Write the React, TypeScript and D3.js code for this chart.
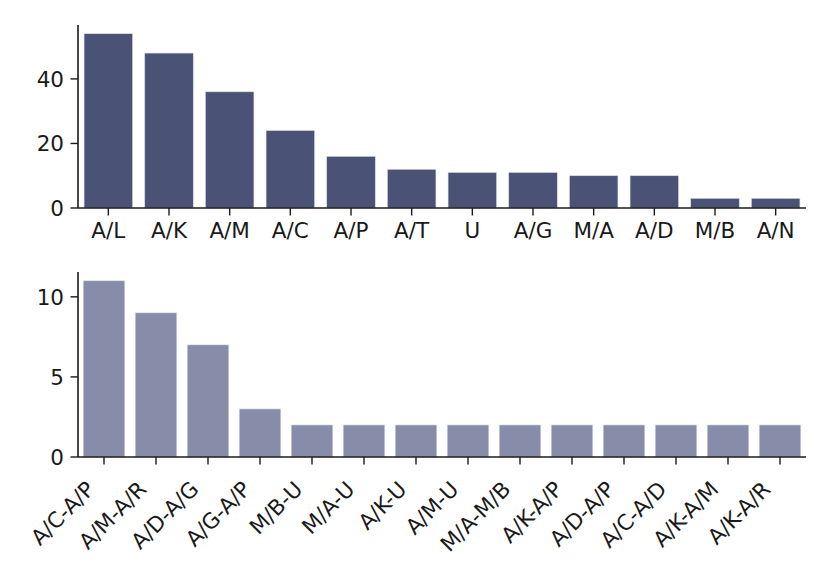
import React, { useEffect, useRef } from 'react';
import * as d3 from 'd3';

const topLabels = ['A/L', 'A/K', 'A/M', 'A/C', 'A/P', 'A/T', 'U', 'A/G', 'M/A', 'A/D', 'M/B', 'A/N'];
const topValues = [54, 48, 36, 24, 16, 12, 11, 11, 10, 10, 3, 3];
const topTicks = [0, 20, 40];

const bottomLabels = ['A/C-A/P', 'A/M-A/R', 'A/D-A/G', 'A/G-A/P', 'M/B-U', 'M/A-U', 'A/K-U', 'A/M-U', 'M/A-M/B', 'A/K-A/P', 'A/D-A/P', 'A/C-A/D', 'A/K-A/M', 'A/K-A/R'];
const bottomValues = [11, 9, 7, 3, 2, 2, 2, 2, 2, 2, 2, 2, 2, 2];
const bottomTicks = [0, 5, 10];

const W = 830;
const H = 581;
const FONT = 21.5;
const INK = '#1a1a1a';
const TICK = 7.5;
const PAD = 6.5;

const App = () => {
  const svgRef = useRef(null);

  useEffect(() => {
    const svg = d3.select(svgRef.current);
    svg.selectAll('*').remove();

    const drawPanel = (labels, values, ticks, box, color, rotate) => {
      const n = labels.length;
      const x = d3.scaleLinear().domain([-0.5, n - 0.5]).range([box.left, box.right]);
      const y = d3.scaleLinear().domain([0, d3.max(values) * 1.05]).range([box.bottom, box.top]);
      const bw = x(0.8) - x(0);
      const g = svg.append('g');

      g.selectAll('rect')
        .data(values)
        .join('rect')
        .attr('x', (d, i) => x(i) - bw / 2)
        .attr('y', (d) => y(d))
        .attr('width', bw)
        .attr('height', (d) => y(0) - y(d))
        .attr('fill', color)
        .attr('stroke', '#d9dbe4')
        .attr('stroke-width', 0.6);

      // spines
      g.append('line')
        .attr('x1', box.left).attr('x2', box.left)
        .attr('y1', box.top).attr('y2', box.bottom)
        .attr('stroke', INK).attr('stroke-width', 1.6);
      g.append('line')
        .attr('x1', box.left).attr('x2', box.right)
        .attr('y1', box.bottom).attr('y2', box.bottom)
        .attr('stroke', INK).attr('stroke-width', 1.6);

      // y ticks
      ticks.forEach((t) => {
        g.append('line')
          .attr('x1', box.left - TICK).attr('x2', box.left)
          .attr('y1', y(t)).attr('y2', y(t))
          .attr('stroke', INK).attr('stroke-width', 1.4);
        g.append('text')
          .attr('x', box.left - TICK - PAD)
          .attr('y', y(t))
          .attr('dy', '0.36em')
          .attr('text-anchor', 'end')
          .attr('font-size', FONT)
          .attr('fill', INK)
          .text(t);
      });

      // x ticks
      labels.forEach((lab, i) => {
        g.append('line')
          .attr('x1', x(i)).attr('x2', x(i))
          .attr('y1', box.bottom).attr('y2', box.bottom + TICK)
          .attr('stroke', INK).attr('stroke-width', 1.4);
        const ty = box.bottom + TICK + PAD;
        if (rotate) {
          // rotated 45deg, right edge of the label's box under the tick
          const dx = -0.707 * 0.236 * FONT - 4.5;
          const dy = 0.707 * 0.76 * FONT + 8;
          g.append('text')
            .attr('transform', `translate(${x(i) + dx},${ty + dy}) rotate(-45)`)
            .attr('text-anchor', 'end')
            .attr('font-size', FONT)
            .attr('fill', INK)
            .text(lab);
        } else {
          g.append('text')
            .attr('x', x(i))
            .attr('y', ty)
            .attr('dy', '0.76em')
            .attr('text-anchor', 'middle')
            .attr('font-size', FONT)
            .attr('fill', INK)
            .text(lab);
        }
      });
    };

    drawPanel(topLabels, topValues, topTicks, { left: 78, right: 806, top: 25, bottom: 208 }, '#4a5275', false);
    drawPanel(bottomLabels, bottomValues, bottomTicks, { left: 78, right: 806, top: 272, bottom: 457 }, '#878ca8', true);
  }, []);

  return (
    <div>
      <style>{`body { margin: 0; }`}</style>
      <svg
        ref={svgRef}
        width={W}
        height={H}
        style={{ display: 'block', background: '#fff', fontFamily: '"DejaVu Sans", sans-serif' }}
      />
    </div>
  );
};

export default App;
